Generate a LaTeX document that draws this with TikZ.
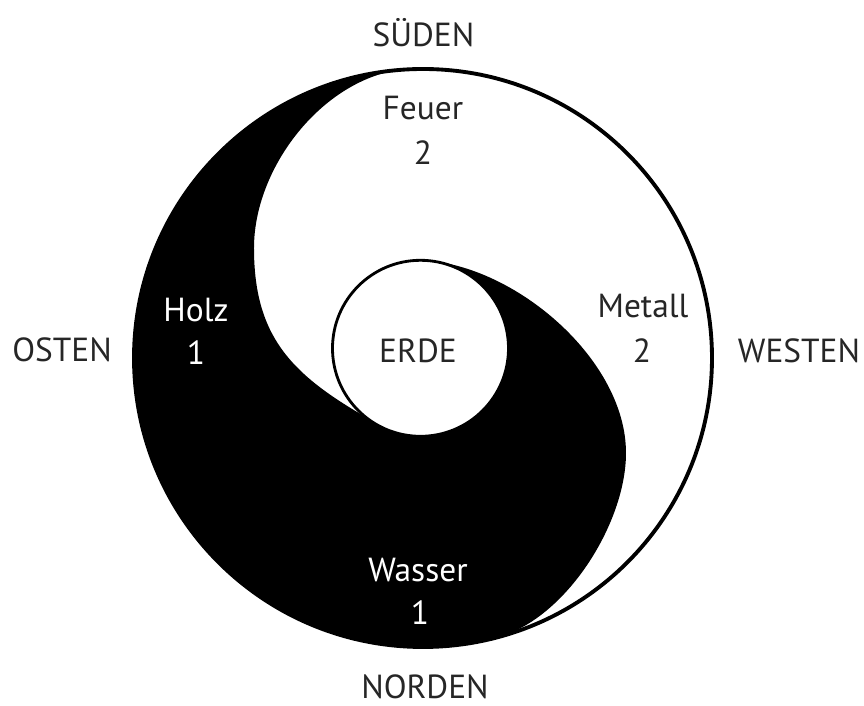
\documentclass[tikz,border=0pt]{standalone}
\usepackage{fontspec}
\setmainfont{PT Sans}
\usetikzlibrary{calc}

\begin{document}
\begin{tikzpicture}[
  lbl/.style={font=\fontsize{19}{23}\selectfont, text=black!85, anchor=base, inner sep=0pt},
  inv/.style={lbl, text=white}]
\useasboundingbox (-8.46,-6.96) rectangle (8.82,7.16);
\coordinate (O) at (0,0);
\coordinate (E) at (-0.05,0.194);
\coordinate (T) at (-0.2,5.79);
\coordinate (L) at (-3.38,2.2);
\coordinate (P) at (-75:5.78);
\coordinate (R) at (4.06,-1.9);
\coordinate (Q) at ($(E)+(85:1.76)$);
% schwarze Haelfte
\begin{scope}
\clip (O) circle (5.78);
\fill (P) to[out=15,in=-90,looseness=.8] (R) to[out=90,in=-5,looseness=.85] (Q)
  arc[start angle=85,end angle=-129,radius=1.76]
  to[out=150,in=-90,looseness=1.1] (L) to[out=90,in=182,looseness=.9] (T)
  -- ++(0,2) -- (-7,7.8) -- (-7,-7) -- (2,-7) -- cycle;
\end{scope}
% Kreise
\draw[line width=2.2pt] (O) circle (5.78);
\draw[line width=1.6pt] (E) circle (1.76);
% Himmelsrichtungen
\node[lbl] (sueden) at (0.01,6.22) {SÜDEN};
\node[lbl] (norden) at (0.04,-6.82) {NORDEN};
\node[lbl] (osten) at (-7.22,-0.08) {OSTEN};
\node[lbl] (westen) at (7.52,-0.1) {WESTEN};
% Elemente
\node[lbl] (feuer) at (0,4.76) {Feuer};
\node[lbl] (feuer2) at (0,3.86) {2};
\node[inv] (holz) at (-4.54,0.72) {Holz};
\node[inv] (holz1) at (-4.54,-0.14) {1};
\node[lbl] (metall) at (4.4,0.8) {Metall};
\node[lbl] (metall2) at (4.38,-0.1) {2};
\node[lbl] (erde) at (-0.1,-0.1) {ERDE};
\node[inv] (wasser) at (-0.1,-4.48) {Wasser};
\node[inv] (wasser1) at (-0.06,-5.34) {1};
\end{tikzpicture}
\end{document}
